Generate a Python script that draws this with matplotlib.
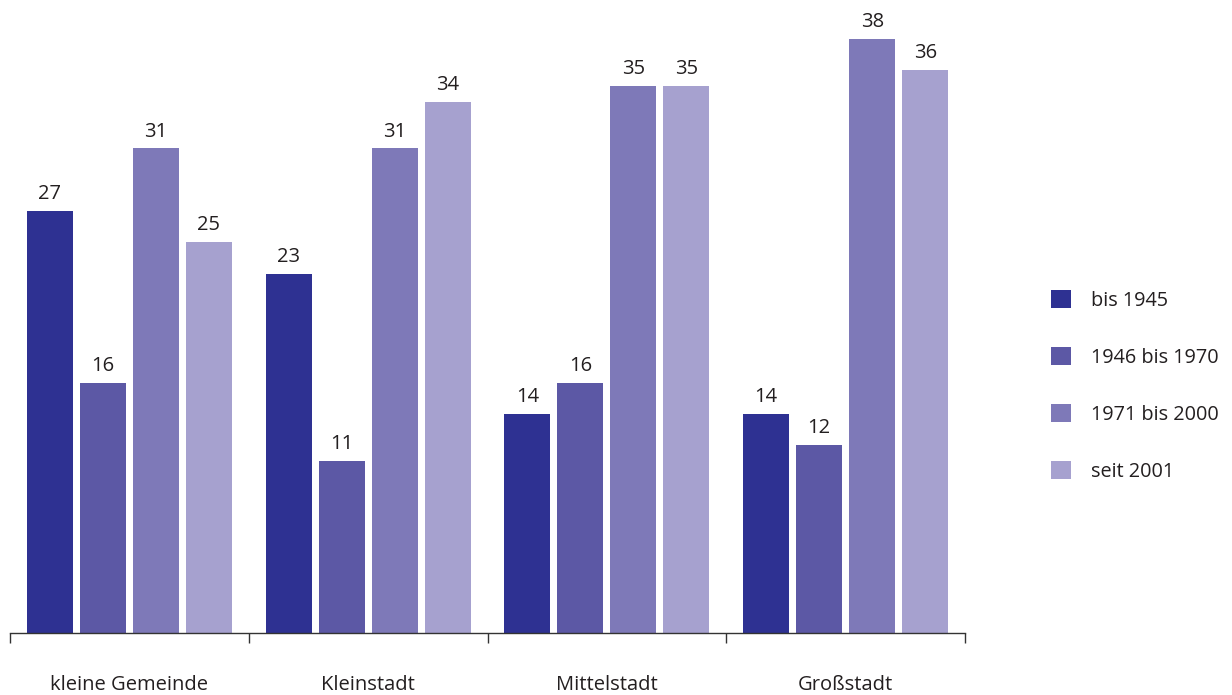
import numpy as np
import matplotlib
matplotlib.use('Agg')
import matplotlib.pyplot as plt
from matplotlib.patches import Patch

plt.rcParams['font.family'] = ['Open Sans', 'DejaVu Sans']

kategorien = ['kleine Gemeinde', 'Kleinstadt', 'Mittelstadt', 'Großstadt']
serien = ['bis 1945', '1946 bis 1970', '1971 bis 2000', 'seit 2001']
bis_1945 = [27, 23, 14, 14]
von_1946 = [16, 11, 16, 12]
von_1971 = [31, 31, 35, 38]
seit_2001 = [25, 34, 35, 36]
farben = ['#2E3192', '#5C58A5', '#7E79B8', '#A6A1CF']

werte = [bis_1945, von_1946, von_1971, seit_2001]
textfarbe = '#231F20'

fig = plt.figure(figsize=(12.32, 6.95), dpi=100)
# axes: x from px 10 to 965, y baseline at px 633 up to top
ax = fig.add_axes([10/1232, (695-633)/695, 955/1232, 633/695])

schritt = 0.222
breite = 0.193
mitte = np.arange(len(kategorien)) + 0.5
for i, (w, f) in enumerate(zip(werte, farben)):
    x = mitte + (i - 1.5)*schritt
    bars = ax.bar(x, w, width=breite, color=f, label=serien[i])
    for xb, v in zip(x, w):
        ax.annotate(str(v), (xb, v), xytext=(0, 5), textcoords='offset points',
                    ha='center', va='bottom', fontsize=14.5, color=textfarbe)

ax.set_xlim(0, 4)
ax.set_ylim(0, 633/15.63)
for s in ['top', 'right', 'left']:
    ax.spines[s].set_visible(False)
ax.spines['bottom'].set_color('#333333')
ax.spines['bottom'].set_linewidth(1.0)
ax.set_yticks([])
ax.set_xticks([0, 1, 2, 3, 4])
ax.set_xticklabels([])
ax.tick_params(axis='x', direction='out', length=7, width=1.0, color='#333333')
for m, k in zip(mitte, kategorien):
    ax.text(m, -3.3, k, ha='center', va='center', fontsize=14.5, color=textfarbe,
            transform=ax.transData, clip_on=False)

handles = [Patch(facecolor=f, edgecolor='none') for f in farben]
fig.legend(handles, serien, loc='center left', bbox_to_anchor=(1033/1232, 1 - 386/695),
           frameon=False, fontsize=14.3, handlelength=1.0, handleheight=1.0,
           handletextpad=1.0, labelspacing=1.82, labelcolor=textfarbe)

fig.savefig('out.png', dpi=100)
